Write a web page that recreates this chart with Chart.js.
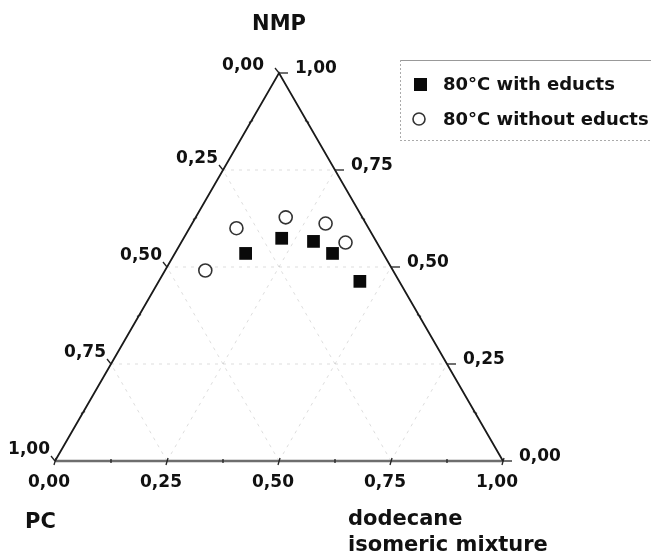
<!DOCTYPE html>
<html>
<head>
<meta charset="utf-8">
<script src="https://cdn.jsdelivr.net/npm/chart.js@4/dist/chart.umd.min.js"></script>
<style>
html,body{margin:0;padding:0;background:#fff;}
#wrap{width:651px;height:556px;position:relative;}
</style>
</head>
<body>
<div id="wrap"><canvas id="c" width="651" height="556"></canvas></div>
<script>
// Ternary data: fractions of NMP (top), dodecane (right), PC (left)
const seriesNames = ['80°C with educts', '80°C without educts'];
const nmpWith = [0.535, 0.574, 0.566, 0.535, 0.463];
const dodWith = [0.158, 0.219, 0.294, 0.352, 0.449];
const pcWith  = [0.307, 0.207, 0.140, 0.113, 0.088];
const nmpWithout = [0.491, 0.600, 0.628, 0.612, 0.563];
const dodWithout = [0.090, 0.105, 0.201, 0.298, 0.367];
const pcWithout  = [0.419, 0.295, 0.171, 0.090, 0.070];
const gridValues = [0.25, 0.5, 0.75];
const tickValues = [0, 0.125, 0.25, 0.375, 0.5, 0.625, 0.75, 0.875, 1];
const tickLabels = ['0,00', '0,25', '0,50', '0,75', '1,00'];
const majorValues = [0, 0.25, 0.5, 0.75, 1];
const axisTitles = {top: 'NMP', left: 'PC', right: ['dodecane', 'isomeric mixture']};

// ternary -> cartesian (x: 0..1 along base, y: NMP fraction 0..1)
function tern(nmp, dod, pc) {
  const s = nmp + dod + pc;
  const n = nmp / s, d = dod / s;
  return {x: d + n / 2, y: n};
}
function toPoints(nmp, dod, pc) { return nmp.map((n, i) => tern(n, dod[i], pc[i])); }

const gridSets = [];
gridValues.forEach(g => {
  gridSets.push([tern(g, 0, 1 - g), tern(g, 1 - g, 0)]);      // NMP const
  gridSets.push([tern(0, g, 1 - g), tern(1 - g, g, 0)]);      // dodecane const
  gridSets.push([tern(0, 1 - g, g), tern(1 - g, 0, g)]);      // PC const
});

const datasets = [];
gridSets.forEach(pts => datasets.push({
  data: pts, showLine: true, borderColor: 'rgba(170,170,170,0.4)', borderWidth: 1,
  borderDash: [3, 5], pointRadius: 0, clip: false, order: 5
}));
datasets.push({ data: [tern(0, 0, 1), tern(0, 1, 0)], showLine: true, borderColor: '#6e6e6e',
  borderWidth: 2.6, pointRadius: 0, clip: false, order: 4 });
datasets.push({ data: [tern(0, 0, 1), tern(1, 0, 0), tern(0, 1, 0)], showLine: true, borderColor: '#1a1a1a',
  borderWidth: 1.8, pointRadius: 0, clip: false, order: 3 });
datasets.push({ label: seriesNames[1], data: toPoints(nmpWithout, dodWithout, pcWithout), showLine: false,
  pointStyle: 'circle', pointRadius: 6.5, borderWidth: 1.6, borderColor: '#333',
  backgroundColor: '#fff', clip: false, order: 2 });
datasets.push({ label: seriesNames[0], data: toPoints(nmpWith, dodWith, pcWith), showLine: false,
  pointStyle: 'rect', pointRadius: 9, borderWidth: 0, borderColor: '#000',
  backgroundColor: '#0a0a0a', clip: false, order: 1 });

const FONT = '"DejaVu Sans", "Liberation Sans", sans-serif';

const ternaryDecor = {
  id: 'ternaryDecor',
  afterDatasetsDraw(chart) {
    const ctx = chart.ctx, xs = chart.scales.x, ys = chart.scales.y;
    const P = p => ({x: xs.getPixelForValue(p.x), y: ys.getPixelForValue(p.y)});
    ctx.save();
    ctx.strokeStyle = '#222';
    ctx.lineWidth = 1.3;
    const line = (x1, y1, x2, y2) => { ctx.beginPath(); ctx.moveTo(x1, y1); ctx.lineTo(x2, y2); ctx.stroke(); };
    const isMajor = t => majorValues.some(m => Math.abs(m - t) < 1e-9);
    tickValues.forEach(t => {
      // bottom axis (dodecane)
      const b = P(tern(0, t, 1 - t));
      if (isMajor(t)) line(b.x - 1, b.y + 4, b.x + 1, b.y - 3); else line(b.x, b.y + 2, b.x, b.y - 2);
      // right axis (NMP)
      const r = P(tern(t, 1 - t, 0));
      if (isMajor(t)) line(r.x, r.y, r.x + 9, r.y); else line(r.x - 2, r.y - 1, r.x + 2, r.y + 1);
      // left axis (PC)
      const l = P(tern(1 - t, 0, t));
      if (isMajor(t)) line(l.x, l.y, l.x - 4, l.y - 5); else line(l.x - 2, l.y + 1, l.x + 2, l.y - 1);
    });
    // tick labels
    ctx.fillStyle = '#111';
    ctx.font = 'bold 17px ' + FONT;
    ctx.textBaseline = 'middle';
    majorValues.forEach((t, i) => {
      const b = P(tern(0, t, 1 - t));
      ctx.textAlign = 'center';
      ctx.fillText(tickLabels[i], b.x - 6, b.y + 22);
      const r = P(tern(t, 1 - t, 0));
      ctx.textAlign = 'left';
      ctx.fillText(tickLabels[i], r.x + 16, r.y - 4);
      const l = P(tern(1 - t, 0, t));
      ctx.textAlign = 'right';
      if (t === 0) ctx.fillText(tickLabels[i], l.x - 15, l.y - 7);
      else ctx.fillText(tickLabels[i], l.x - 5, l.y - 11);
    });
    // axis titles
    ctx.font = 'bold 21px ' + FONT;
    ctx.textBaseline = 'alphabetic';
    const apex = P(tern(1, 0, 0));
    ctx.textAlign = 'center';
    ctx.fillText(axisTitles.top, apex.x + 0, 30);
    const bl = P(tern(0, 0, 1));
    ctx.textAlign = 'left';
    ctx.fillText(axisTitles.left, bl.x - 30, 528);
    const br = P(tern(0, 1, 0));
    ctx.fillText(axisTitles.right[0], br.x - 155, 525);
    ctx.fillText(axisTitles.right[1], br.x - 155, 551);
    // legend box
    ctx.strokeStyle = '#999';
    ctx.lineWidth = 1;
    line(400, 60.5, 651, 60.5);
    ctx.setLineDash([2, 2]);
    ctx.strokeStyle = '#aaa';
    line(400, 140.5, 651, 140.5);
    line(400.5, 60, 400.5, 140);
    ctx.setLineDash([]);
    // legend markers
    ctx.fillStyle = '#0a0a0a';
    ctx.fillRect(414, 78, 13, 13);
    ctx.beginPath();
    ctx.arc(419, 119, 6, 0, Math.PI * 2);
    ctx.fillStyle = '#fff'; ctx.fill();
    ctx.strokeStyle = '#333'; ctx.lineWidth = 1.6; ctx.stroke();
    ctx.fillStyle = '#111';
    ctx.font = 'bold 18px ' + FONT;
    ctx.textBaseline = 'middle';
    ctx.textAlign = 'left';
    ctx.fillText(seriesNames[0], 443, 85);
    ctx.fillText(seriesNames[1], 443, 120);
    ctx.restore();
  }
};

new Chart(document.getElementById('c'), {
  type: 'scatter',
  data: { datasets },
  options: {
    responsive: false,
    animation: false,
    layout: { padding: { left: 55, right: 148, top: 73, bottom: 95 } },
    scales: {
      x: { type: 'linear', min: 0, max: 1, display: false },
      y: { type: 'linear', min: 0, max: 1, display: false }
    },
    plugins: { legend: { display: false }, tooltip: { enabled: false } }
  },
  plugins: [ternaryDecor]
});
</script>
</body>
</html>
